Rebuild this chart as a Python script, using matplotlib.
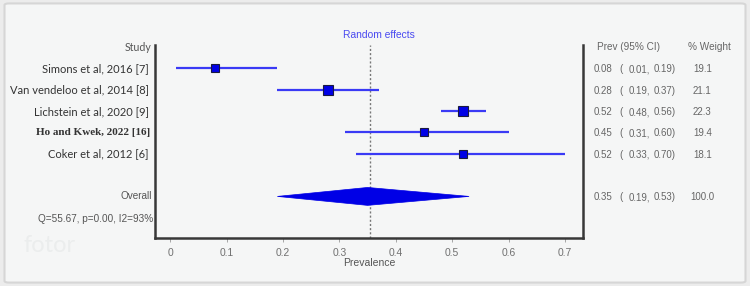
import matplotlib
matplotlib.use("Agg")
import matplotlib.pyplot as plt
import matplotlib.transforms as mtransforms
from matplotlib.patches import FancyBboxPatch, Polygon

studies = ["Simons et al, 2016 [7]", "Van vendeloo et al, 2014 [8]",
           "Lichstein et al, 2020 [9]", "Ho and Kwek, 2022 [16]",
           "Coker et al, 2012 [6]"]
prev = [0.08, 0.28, 0.52, 0.45, 0.52]
ci_lo = [0.01, 0.19, 0.48, 0.31, 0.33]
ci_hi = [0.19, 0.37, 0.56, 0.60, 0.70]
weights = [19.1, 21.1, 22.3, 19.4, 18.1]
pooled = [0.35, 0.19, 0.53]
pooled_weight = 100.0
het_text = "Q=55.67, p=0.00, I2=93%"
xticks = [0, 0.1, 0.2, 0.3, 0.4, 0.5, 0.6, 0.7]
xtick_labels = ["0", "0.1", "0.2", "0.3", "0.4", "0.5", "0.6", "0.7"]

bg = "#f5f6f6"
fig = plt.figure(figsize=(7.5, 2.86), dpi=100, facecolor="#ececec")
frame = FancyBboxPatch((0.006, 0.012), 0.988, 0.976, boxstyle="round,pad=0,rounding_size=0.006",
                       transform=fig.transFigure, facecolor=bg, edgecolor="#d6d6d6", lw=1.5,
                       zorder=-10)
fig.patches.append(frame)

ax = fig.add_axes([155/750, 1-238/286, (583-155)/750, (238-45)/286])
ax.set_zorder(1)
ax.patch.set_alpha(0)
ax.set_xlim(-0.027, 0.732)
ax.set_ylim(8.95, -0.1)

ax.spines["top"].set_visible(False)
for s in ["left", "right", "bottom"]:
    ax.spines[s].set_color("#383838")
    ax.spines[s].set_linewidth(1.8)

line_col = "#3a3af5"
sq_col = "#0000e6"
for i, (p, lo, hi, w) in enumerate(zip(prev, ci_lo, ci_hi, weights)):
    y = i + 1
    ax.plot([lo, hi], [y, y], color=line_col, lw=1.6, solid_capstyle="butt", zorder=2)
    ax.plot([p], [y], marker="s", ms=w * 0.31, color=sq_col, mec="#1a1a40", mew=0.8, zorder=3)

# pooled diamond
yo = 7
est, lo, hi = pooled
dia = Polygon([[lo, yo], [est, yo - 0.42], [hi, yo], [est, yo + 0.42]], closed=True,
              facecolor="#0000e6", edgecolor="#0000e6", lw=0.5, zorder=3)
ax.add_patch(dia)
ax.axvline(est + 0.005, color="#777777", lw=1.0, ls=(0, (1.5, 1.5)), zorder=1)

ax.set_xticks(xticks)
ax.set_xticklabels(xtick_labels, fontsize=7.4, color="#707070", family="Liberation Sans")
ax.tick_params(axis="x", length=3, width=0.6, color="#999999", pad=4)
ax.set_yticks([])
ax.set_xlabel("Prevalence", fontsize=7.5, color="#555555", family="Liberation Sans", labelpad=0)

trans = mtransforms.blended_transform_factory(fig.transFigure, ax.transData)
lab_col = "#333333"
ax.text(151/750, 0, "Study", transform=trans, ha="right", va="center", fontsize=7.6,
        color="#555555", family="Lato")
for i, s in enumerate(studies):
    if s.startswith("Ho and"):
        ax.text(150/750, i + 1, s, transform=trans, ha="right", va="center", fontsize=8,
                color=lab_col, family="Liberation Serif", fontweight="bold")
    else:
        ax.text(149/750, i + 1, s, transform=trans, ha="right", va="center", fontsize=8,
                color=lab_col, family="Lato")
ax.text(152/750, yo, "Overall", transform=trans, ha="right", va="center", fontsize=7.2,
        color="#555555", family="Liberation Sans")
ax.text(153/750, 8.05, het_text, transform=trans, ha="right", va="center", fontsize=7.2,
        color="#555555", family="Liberation Sans")

rc = "#666666"
fs = 7.0
ax.text(597/750, 0, "Prev (95% CI)", transform=trans, ha="left", va="center", fontsize=7.2,
        color=rc, family="Liberation Sans")
ax.text(688/750, 0, "% Weight", transform=trans, ha="left", va="center", fontsize=7.2,
        color=rc, family="Liberation Sans")


def ci_row(y, p, lo_, hi_, w, wx):
    kw = dict(transform=trans, ha="left", va="center_baseline", fontsize=fs, color=rc,
              family="Liberation Sans")
    ax.text(594/750, y, f"{p:.2f}", **kw)
    ax.text(619/750, y, "(", **kw)
    ax.text(629/750, y, f"{lo_:.2f},", **kw)
    ax.text(654/750, y, f"{hi_:.2f})", **kw)
    ax.text(wx/750, y, f"{w:.1f}", **kw)


for i, (p, lo_, hi_, w) in enumerate(zip(prev, ci_lo, ci_hi, weights)):
    ci_row(i + 1, p, lo_, hi_, w, 693)
ci_row(yo, pooled[0], pooled[1], pooled[2], pooled_weight, 690)

fig.text(379/750, 1 - 35/286, "Random effects", ha="center", va="center", fontsize=7.4,
         color="#4a4af0", family="Liberation Sans")
fig.text(24/750, 1 - 245/286, "fotor", ha="left", va="center", fontsize=17,
         color="#ebeded", family="Lato")

fig.savefig("out.png", dpi=100, facecolor=fig.get_facecolor())
